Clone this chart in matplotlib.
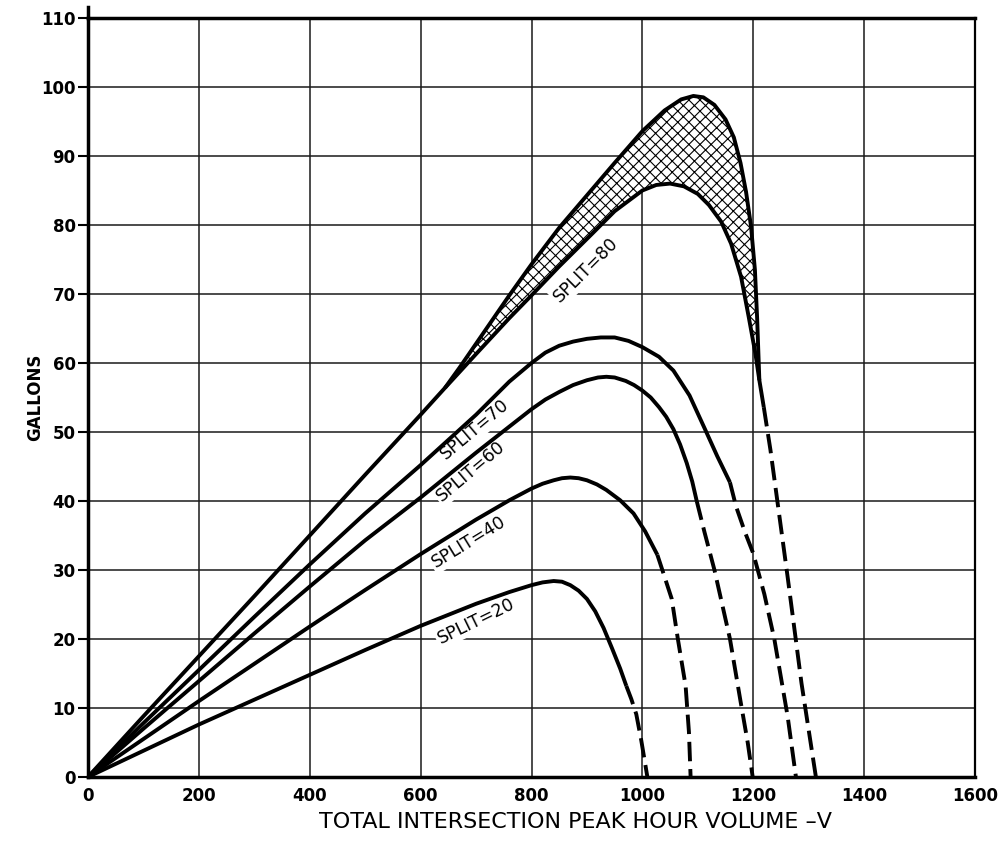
import numpy as np
from matplotlib import pyplot as plt

####################################### curves ################################
# solid part of each curve, then the dashed tail (tail starts at the last solid point)
split20_x = [0, 100, 200, 300, 400, 500, 600, 700, 760, 800, 820, 840, 855, 870, 885, 900, 915, 930, 945, 960, 971]
split20_y = [0, 3.8, 7.6, 11.2, 14.8, 18.4, 21.9, 25.1, 26.8, 27.8, 28.2, 28.4, 28.3, 27.8, 27.0, 25.8, 24.0, 21.6, 18.7, 15.7, 13.2]
split20_dash_x = [971, 980, 989, 998, 1009]
split20_dash_y = [13.2, 11.3, 9.1, 5.3, 0]

split40_x = [0, 100, 200, 300, 400, 500, 600, 700, 760, 800, 820, 840, 855, 870, 885, 900, 918, 935, 960, 984, 1005, 1027]
split40_y = [0, 5.5, 11.0, 16.4, 21.8, 27.1, 32.3, 37.3, 40.1, 41.8, 42.5, 43.0, 43.3, 43.4, 43.3, 43.0, 42.4, 41.6, 40.1, 38.2, 35.6, 32.2]
split40_dash_x = [1027, 1036, 1053, 1064, 1078, 1084, 1087]
split40_dash_y = [32.2, 30.0, 25.8, 20.0, 13.2, 6.5, 0]

split60_x = [0, 100, 200, 300, 400, 500, 600, 700, 800, 825, 850, 875, 900, 920, 935, 950, 970, 985, 1000, 1015, 1030, 1043, 1056, 1068, 1080, 1090, 1098]
split60_y = [0, 7.0, 13.9, 20.8, 27.6, 34.3, 40.5, 47.0, 53.3, 54.7, 55.8, 56.8, 57.5, 57.9, 58.0, 57.9, 57.4, 56.8, 56.0, 55.0, 53.6, 52.2, 50.4, 48.2, 45.5, 42.8, 40.0]
split60_dash_x = [1098, 1112, 1130, 1158, 1177, 1190, 1199]
split60_dash_y = [40.0, 35.5, 30.0, 20.0, 11.0, 5.0, 0]

split70_x = [0, 100, 200, 300, 400, 500, 600, 700, 760, 800, 825, 850, 875, 900, 925, 950, 975, 1000, 1030, 1056, 1085, 1113, 1135, 1158]
split70_y = [0, 7.8, 15.5, 23.2, 30.8, 38.2, 45.2, 52.5, 57.3, 60.0, 61.5, 62.5, 63.1, 63.5, 63.7, 63.7, 63.2, 62.3, 60.9, 58.9, 55.3, 50.4, 46.5, 42.7]
split70_dash_x = [1158, 1169, 1185, 1200, 1220, 1238, 1262, 1277]
split70_dash_y = [42.7, 39.2, 35.5, 32.4, 26.5, 20.0, 8.8, 0]

split80_x = [0, 100, 200, 300, 400, 500, 600, 644, 700, 760, 800, 850, 909, 950, 1000, 1025, 1050, 1075, 1100, 1120, 1142, 1160, 1178, 1192, 1204, 1211, 1219]
split80_y = [0, 8.8, 17.5, 26.2, 35.0, 43.8, 52.5, 56.4, 61.3, 66.5, 69.8, 74.0, 78.7, 82.0, 85.0, 85.8, 86.0, 85.6, 84.5, 82.9, 80.5, 77.3, 72.5, 66.6, 61.3, 57.5, 53.6]
split80_dash_x = [1219, 1231, 1262, 1287, 1313]
split80_dash_y = [53.6, 47.4, 29.0, 13.6, 0]

# upper edge of the cross-hatched band above SPLIT=80
upper_x = [644, 670, 700, 730, 760, 800, 850, 900, 950, 1000, 1040, 1070, 1092, 1110, 1130, 1150, 1165, 1177, 1187, 1196, 1203, 1207, 1211]
upper_y = [56.4, 59.3, 62.8, 66.3, 69.8, 74.3, 79.6, 84.3, 89.0, 93.6, 96.6, 98.2, 98.7, 98.5, 97.4, 95.3, 92.7, 89.0, 84.8, 79.8, 73.5, 66.5, 57.5]

labels = ["SPLIT=20", "SPLIT=40", "SPLIT=60", "SPLIT=70", "SPLIT=80"]
label_x = [700, 687, 691, 698, 898]
label_y = [22.6, 34.0, 44.3, 50.4, 73.5]
label_rot = [26, 31.5, 40, 40, 45]

x_ticks = np.arange(0, 1601, 200)
y_ticks = np.arange(0, 111, 10)
############################################################################################

plt.rcParams['hatch.linewidth'] = 0.8

fig = plt.figure(figsize=(10, 8.61), dpi=100)
ax = fig.add_axes([0.088, 0.0976, 0.887, 0.8815])

ax.set_xlim(0, 1600)
ax.set_ylim(0, 110)
ax.set_xticks(x_ticks)
ax.set_yticks(y_ticks)
ax.grid(True, color="#1a1a1a", linewidth=1.1, zorder=1)
ax.set_axisbelow(True)

# hatched band between SPLIT=80 and the upper edge
sx = np.array(split80_x)
sy = np.array(split80_y)
keep = (sx >= upper_x[0]) & (sx <= upper_x[-1])
band_x = np.concatenate([upper_x, sx[keep][::-1]])
band_y = np.concatenate([upper_y, sy[keep][::-1]])
ax.fill(band_x, band_y, facecolor="white", edgecolor="black", hatch="xxx", linewidth=0, zorder=2)

solid = [(split20_x, split20_y), (split40_x, split40_y), (split60_x, split60_y),
         (split70_x, split70_y), (split80_x, split80_y), (upper_x, upper_y)]
dashed = [(split20_dash_x, split20_dash_y), (split40_dash_x, split40_dash_y),
          (split60_dash_x, split60_dash_y), (split70_dash_x, split70_dash_y),
          (split80_dash_x, split80_dash_y)]
for xs, ys in solid:
    ax.plot(xs, ys, color="black", linewidth=2.8, solid_capstyle="butt",
            solid_joinstyle="round", zorder=4)
for xs, ys in dashed:
    ax.plot(xs, ys, color="black", linewidth=2.8, linestyle=(0, (5, 2)), zorder=4)

for txt, lx, ly, rot in zip(labels, label_x, label_y, label_rot):
    ax.text(lx, ly, txt, rotation=rot, rotation_mode="anchor", ha="center", va="center",
            fontsize=12.5, family="DejaVu Sans", zorder=3,
            bbox=dict(facecolor="white", edgecolor="none", pad=1.5))

for side in ["left", "bottom", "top"]:
    ax.spines[side].set_linewidth(2.5)
ax.spines["right"].set_linewidth(1.6)
ax.plot([0, 0], [110, 111.6], color="black", linewidth=2.5, clip_on=False)

ax.tick_params(axis="y", direction="out", length=7, width=1.5, pad=2, labelsize=12)
ax.tick_params(axis="x", length=0, pad=7, labelsize=12)
for lab in ax.get_xticklabels() + ax.get_yticklabels():
    lab.set_fontweight("bold")

ax.set_xlabel("TOTAL INTERSECTION PEAK HOUR VOLUME –V", fontsize=16,
              family="DejaVu Sans", va="center")
ax.xaxis.set_label_coords(0.55, -0.059)
ax.set_ylabel("GALLONS", fontsize=12, fontweight="bold", va="center")
ax.yaxis.set_label_coords(-0.06, 0.5)

plt.savefig("out.png", dpi=100)
